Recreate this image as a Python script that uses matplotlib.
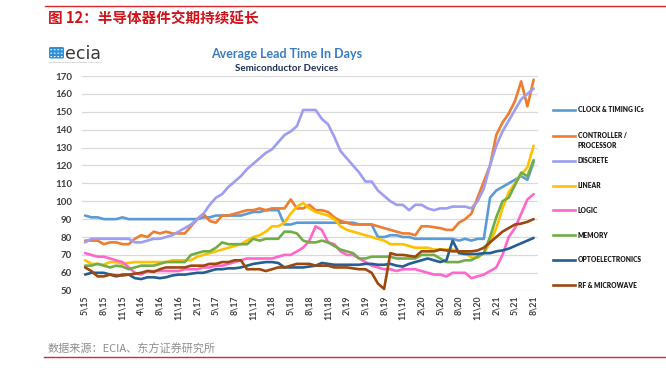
import matplotlib
matplotlib.use('Agg')
import matplotlib.pyplot as plt
from matplotlib.lines import Line2D
from matplotlib.patches import FancyBboxPatch, Circle
import numpy as np

W, H = 666.0, 378.0

# x axis categories (one label every 3 points)
x_labels = ['5\\15', '8\\15', '11\\15', '4\\16', '8\\16', '11\\16', '2\\17', '5\\17', '8\\17',
            '11\\17', '2\\18', '5\\18', '8\\18', '11\\18', '2\\19', '5\\19', '8\\19', '11\\19',
            '2\\20', '5\\20', '8\\20', '11\\20', '2\\21', '5\\21', '8\\21']

clock = [92, 91, 91, 90, 90, 90, 91, 90, 90, 90,
         90, 90, 90, 90, 90, 90, 90, 90, 90, 91,
         91, 92, 92, 92, 92, 92, 93, 94, 94, 95,
         95, 95, 87, 87, 88, 88, 88, 88, 88, 88,
         88, 88, 88, 88, 87, 87, 87, 80, 80, 81,
         81, 80, 80, 79, 79, 79, 79, 79, 79, 79,
         78, 79, 78, 79, 79, 102, 106, 108, 110, 112,
         114, 112, 122]

controller = [78, 78, 78, 76, 77, 77, 76, 76, 79, 81,
              80, 83, 82, 83, 82, 82, 82, 86, 90, 93,
              89, 88, 92, 92, 93, 94, 95, 95, 96, 95,
              96, 96, 96, 101, 96, 96, 98, 95, 95, 94,
              91, 89, 88, 87, 87, 87, 87, 86, 85, 84,
              83, 82, 82, 81, 86, 86, 85.5, 85, 84, 84,
              88, 90, 93, 102, 111, 120, 137, 144, 149, 156,
              167, 153, 168]

discrete = [77, 79, 79, 79, 79, 79, 79, 79, 77, 77,
            78, 79, 79, 80, 81, 83, 85, 87, 90, 93,
            98, 102, 104, 108, 111, 114, 118, 121, 124, 127,
            129, 133, 137, 139, 142, 151, 151, 151, 146, 143,
            136, 128, 124, 120, 116, 111, 111, 106, 103, 100,
            98, 98, 95, 98, 98, 96, 95, 96, 96, 97,
            97, 97, 96, 100, 107, 120, 131, 139, 145, 151,
            157, 160, 163]

linear = [67, 65, 65, 64.5, 66, 66, 65, 65.5, 66, 66,
          66, 66, 66, 66, 67, 67, 67, 67, 69, 70,
          71, 72, 73, 74, 75, 76, 78, 80, 81, 83,
          86, 86, 88, 93, 97, 99, 96, 94, 93, 92,
          90, 86, 84, 83, 82, 81, 80, 79, 78, 76,
          76, 76, 75, 74, 74, 74, 73, 73, 73, 73,
          72, 71.5, 68.5, 68.5, 71, 77, 85, 96, 105, 110,
          115, 119, 131]

logic = [71, 70, 69, 69, 68, 67, 66, 63, 60, 59,
         61, 61, 61, 61, 61, 61, 62, 62, 62, 63,
         63, 64, 64, 65, 66, 67, 68, 68, 68, 68,
         68, 69, 70, 70, 72, 74, 78, 86, 84, 77,
         76, 72, 70, 70, 68, 66, 64, 63, 62, 62,
         61, 62, 62, 62, 61, 60, 59, 59, 58, 60,
         60, 60, 57, 58, 59, 61, 63, 70, 80, 85,
         93, 101, 104]

memory = [64, 64, 65, 64, 63, 64, 63.5, 62, 63, 64,
          64, 64, 65, 66, 66, 66, 66, 70, 71, 72,
          72, 74, 77, 76, 76, 76, 76, 79, 78, 79,
          79, 79, 83, 83, 82, 78, 77, 77, 78, 77,
          75, 73, 72, 71, 68, 68, 69, 69, 69, 69,
          68, 68, 68, 68, 70, 70, 70, 68, 66, 66,
          66, 67, 67, 69, 71, 80, 91, 100, 102, 109,
          116, 114, 123]

opto = [59, 60, 60, 60, 59, 58, 59, 59, 57, 56.5,
        57.5, 57.5, 57, 57.5, 58.5, 59, 59, 59.5, 60, 60,
        61, 62, 62, 62.5, 62.5, 63, 64, 65, 65.5, 66,
        66, 65.5, 63, 63, 63, 63, 63.5, 64, 65.5, 65,
        64.5, 64.5, 64.5, 64.5, 64.5, 65, 65, 64.5, 64.5, 65,
        64, 63.5, 65, 66, 67, 68, 67, 66, 67, 78,
        71, 70.5, 70.5, 70.5, 71, 71, 72, 72.5, 73.5, 75,
        76.5, 78, 79.5]

rf = [63, 61, 58, 58, 59, 58.5, 58.5, 59, 59.5, 60,
      61, 60.5, 62, 63, 63, 63, 63, 64, 64, 64,
      65, 65, 66, 66, 67, 67, 62, 62, 62, 61,
      62, 63, 63, 64, 65, 65, 65, 64, 64, 64,
      63, 63, 63, 62.5, 62, 62, 60, 54, 51, 71,
      70, 70, 69.5, 69, 72, 72, 72, 73, 72.5, 72,
      72, 72, 72, 72.5, 74, 77, 80, 83, 85, 87,
      87.5, 88.5, 90]

series_names = ['CLOCK & TIMING ICs', 'CONTROLLER /\nPROCESSOR', 'DISCRETE', 'LINEAR',
                'LOGIC', 'MEMORY', 'OPTOELECTRONICS', 'RF & MICROWAVE']
series_values = [clock, controller, discrete, linear, logic, memory, opto, rf]
series_colors = ['#5B9BD5', '#ED7D31', '#9D9DF3', '#FFC000',
                 '#FF66CC', '#70AD47', '#255E91', '#9E480E']

y_ticks = list(range(50, 171, 10))


def fx(px):
    return px / W


def fy(py):
    return 1 - py / H


fig = plt.figure(figsize=(W / 100, H / 100), dpi=100)
fig.patch.set_facecolor('white')

ax = fig.add_axes([fx(82), fy(290.7), (538 - 82) / W, (290.7 - 76) / H])

for name, vals, color in zip(series_names, series_values, series_colors):
    ax.plot(np.arange(len(vals)), vals, color=color, lw=1.9,
            solid_joinstyle='round', solid_capstyle='round', zorder=3)

ax.set_ylim(y_ticks[0], y_ticks[-1])
ax.set_yticks(y_ticks)
ax.set_xlim(-0.5, len(clock) - 0.3)
ax.set_xticks(np.arange(0, len(clock), 3))
ax.set_xticklabels(x_labels, rotation=90, fontsize=6.3, color='#404040', family='Lato', fontweight='bold')
for lab in ax.get_yticklabels():
    lab.set_fontsize(7)
    lab.set_color('#404040')
    lab.set_family('Lato')
    lab.set_fontweight('bold')
ax.tick_params(axis='both', length=0)
ax.tick_params(axis='y', pad=7)
ax.tick_params(axis='x', pad=3.5)
ax.grid(axis='y', color='#D9D9D9', lw=0.9, zorder=0)
for s in ax.spines.values():
    s.set_visible(False)

# legend drawn by hand to keep the Excel look
leg_y = [110, 135.7, 160.7, 185.7, 210.3, 235.2, 260, 285]
for name, color, yy in zip(series_names, series_colors, leg_y):
    fig.add_artist(Line2D([fx(553), fx(575)], [fy(yy), fy(yy)], transform=fig.transFigure,
                          color=color, lw=1.9))
    if '\n' in name:
        fig.text(fx(578), fy(yy - 3.5), name, va='top', ha='left', fontsize=4.8,
                 fontweight='heavy', color='#1A1A1A', family='Lato', linespacing=1.5)
    else:
        fig.text(fx(578), fy(yy), name, va='center', ha='left', fontsize=4.8,
                 fontweight='heavy', color='#1A1A1A', family='Lato')

# titles
fig.text(fx(287), fy(53.5), 'Average Lead Time In Days', ha='center', va='center',
         fontsize=9, fontweight='bold', color='#3A7CC1', family='Lato')
fig.text(fx(287), fy(68.5), 'Semiconductor Devices', ha='center', va='center',
         fontsize=7, fontweight='bold', color='#1F2F56', family='Lato')

# ecia logo
fig.patches.append(FancyBboxPatch((fx(49), fy(58.5)), 15 / W, 11.5 / H,
                                  boxstyle='round,pad=0,rounding_size=0.003',
                                  transform=fig.transFigure, facecolor='#2F8FD8', edgecolor='none'))
for i in range(4):
    for j in range(3):
        fig.patches.append(Circle((fx(51.2 + i * 3.5), fy(49.8 + j * 3.4)), 1.0 / W,
                                  transform=fig.transFigure, facecolor='white', edgecolor='none'))
fig.text(fx(65.5), fy(58.7), 'ecia', ha='left', va='baseline', fontsize=12.5,
         color='#3A3A3A', family='DejaVu Sans')
fig.text(fx(49), fy(62.3), 'Electronic Components Industry Association', ha='left', va='center',
         fontsize=1.7, color='#8A8A8A')

# report header / footer
fig.add_artist(Line2D([fx(45), 1], [fy(5.7), fy(5.7)], transform=fig.transFigure,
                      color='#D9252B', lw=1.0))
fig.text(fx(48), fy(18.3), '图 12：半导体器件交期持续延长', ha='left', va='center',
         fontsize=10.5, fontweight='bold', color='#D0121B',
         family=['Noto Sans CJK SC', 'DejaVu Sans'])
fig.text(fx(48), fy(349), '数据来源：ECIA、东方证券研究所', ha='left', va='center',
         fontsize=8, color='#8E8E8E', family=['Noto Sans CJK SC', 'DejaVu Sans'])
fig.add_artist(Line2D([fx(44), 1], [fy(357.3), fy(357.3)], transform=fig.transFigure,
                      color='#D9252B', lw=1.0))

fig.savefig('out.png', dpi=100, facecolor='white')
